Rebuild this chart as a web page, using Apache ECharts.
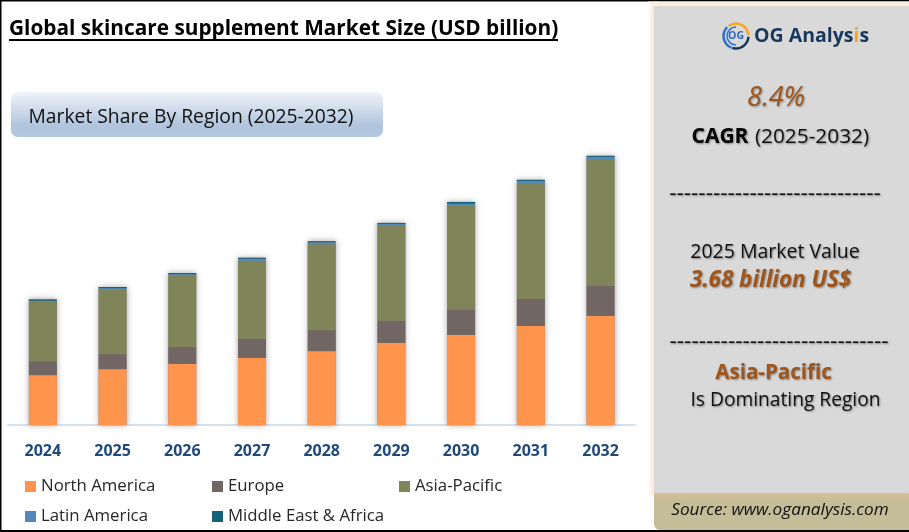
<!DOCTYPE html>
<html>
<head>
<meta charset="utf-8">
<style>
html, body { margin: 0; padding: 0; background: #fff; }
#chart { width: 909px; height: 532px; }
</style>
<script src="https://cdn.jsdelivr.net/npm/echarts@6/dist/echarts.min.js"></script>
</head>
<body>
<div id="chart"></div>
<script>
var years = ['2024', '2025', '2026', '2027', '2028', '2029', '2030', '2031', '2032']
var northAmerica = [1.33, 1.49, 1.63, 1.79, 1.97, 2.19, 2.40, 2.64, 2.91]
var europe = [0.37, 0.40, 0.45, 0.51, 0.56, 0.59, 0.67, 0.72, 0.80]
var asiaPacific = [1.58, 1.73, 1.90, 2.08, 2.29, 2.53, 2.78, 3.07, 3.36]
var latinAmerica = [0.035, 0.03, 0.045, 0.053, 0.053, 0.053, 0.053, 0.08, 0.08]
var middleEast = [0.035, 0.03, 0.027, 0.027, 0.027, 0.027, 0.045, 0.027, 0.027]
// sum of the regions, only used to cast one shadow behind each whole stack
var totals = years.map(function (y, i) {
    return northAmerica[i] + europe[i] + asiaPacific[i] + latinAmerica[i] + middleEast[i]
})

var font = '"Open Sans", "Noto Sans", sans-serif'
var chart = echarts.init(document.getElementById('chart'), null, { renderer: 'canvas' })

function barSeries(name, values, color) {
    return {
        name: name,
        type: 'bar',
        stack: 'total',
        barWidth: 28,
        z: 3,
        data: values,
        itemStyle: { color: color }
    }
}

function legendAt(name, left, top) {
    return {
        data: [name],
        left: left,
        top: top,
        padding: 0,
        itemWidth: 11,
        itemHeight: 11,
        itemGap: 5,
        icon: 'rect',
        selectedMode: false,
        textStyle: { fontFamily: font, fontSize: 16.8, color: '#262626', padding: [1, 0, 0, 0] }
    }
}

function panelText(text, x, y, size, color, weight, style) {
    return {
        type: 'text',
        z: 20,
        style: {
            x: x,
            y: y,
            text: text,
            fontFamily: font,
            fontSize: size,
            fontWeight: weight || 'normal',
            fontStyle: style || 'normal',
            fill: color,
            textAlign: 'center',
            textVerticalAlign: 'middle',
            textShadowColor: 'rgba(0,0,0,0.4)',
            textShadowBlur: 2,
            textShadowOffsetX: 1,
            textShadowOffsetY: 1
        }
    }
}

function logoArc(r, start, end, color, width) {
    return {
        type: 'arc',
        z: 20,
        shape: { cx: 736, cy: 36, r: r, startAngle: start, endAngle: end },
        style: { stroke: color, lineWidth: width, fill: null, lineCap: 'butt' }
    }
}

var graphics = [
    // frame
    { type: 'rect', z: 0, shape: { x: 0, y: 0, width: 909, height: 532 }, style: { fill: '#fff' } },
    { type: 'rect', z: 1, shape: { x: 0, y: 0, width: 909, height: 1.5 }, style: { fill: '#000' } },
    { type: 'rect', z: 1, shape: { x: 0, y: 530, width: 909, height: 2 }, style: { fill: '#000' } },
    { type: 'rect', z: 1, shape: { x: 0, y: 0, width: 1.5, height: 532 }, style: { fill: '#000' } },
    // title
    { type: 'text', z: 20, style: { x: 9, y: 29, text: 'Global skincare supplement Market Size (USD billion)', fontFamily: font, fontSize: 20.8, fontWeight: 'bold', fill: '#000', textVerticalAlign: 'middle' } },
    { type: 'rect', z: 20, shape: { x: 9, y: 39, width: 549, height: 2 }, style: { fill: '#000' } },
    // subtitle box
    {
        type: 'rect', z: 5,
        shape: { x: 11, y: 92, width: 372, height: 45, r: 7 },
        style: {
            fill: new echarts.graphic.LinearGradient(0, 0, 0, 1, [
                { offset: 0, color: '#f0f3f9' },
                { offset: 0.75, color: '#b0c4de' },
                { offset: 1, color: '#b4c7e0' }
            ])
        }
    },
    { type: 'text', z: 20, style: { x: 28.5, y: 117.5, text: 'Market Share By Region (2025-2032)', fontFamily: font, fontSize: 19.3, fill: '#111', textVerticalAlign: 'middle' } },
    // right panel
    {
        type: 'rect', z: 2,
        shape: { x: 648, y: 1.5, width: 10, height: 494 },
        style: {
            fill: new echarts.graphic.LinearGradient(0, 0, 1, 0, [
                { offset: 0, color: '#ffffff' },
                { offset: 0.6, color: '#fde6d3' },
                { offset: 1, color: '#fde6d3' }
            ])
        }
    },
    { type: 'rect', z: 2, shape: { x: 654, y: 1.5, width: 255, height: 6 }, style: { fill: '#fdeee2' } },
    { type: 'rect', z: 3, shape: { x: 654, y: 6, width: 255, height: 490 }, style: { fill: '#d9d9d9' } },
    {
        type: 'rect', z: 4,
        shape: { x: 654, y: 493, width: 255, height: 37, r: [0, 0, 0, 6] },
        style: {
            fill: new echarts.graphic.LinearGradient(0, 0, 0, 1, [
                { offset: 0, color: '#dcc097' },
                { offset: 0.2, color: '#c4bd97' },
                { offset: 1, color: '#c4bd97' }
            ])
        }
    },
    // logo
    logoArc(12.5, Math.PI * 0.62, Math.PI * 1.25, '#2f6fd0', 2.5),
    logoArc(12.5, Math.PI * 1.3, Math.PI * 1.98, '#f5a623', 2.5),
    logoArc(12.5, Math.PI * 0.02, Math.PI * 0.6, '#12355b', 2.5),
    logoArc(9, Math.PI * 0.5, Math.PI * 1.5, '#2f6fd0', 1.5),
    { type: 'text', z: 20, style: { x: 736, y: 36, text: 'OG', fontFamily: font, fontSize: 10.5, fontWeight: 'bold', fill: '#2a6ac8', textAlign: 'center', textVerticalAlign: 'middle' } },
    {
        type: 'text', z: 20,
        style: {
            x: 754, y: 36,
            text: '{a|OG Analys}{b|i}{a|s}',
            textVerticalAlign: 'middle',
            rich: {
                a: { fontFamily: font, fontSize: 19.5, fontWeight: 'bold', fill: '#17375e', color: '#17375e' },
                b: { fontFamily: font, fontSize: 19.5, fontWeight: 'bold', fill: '#f5a623', color: '#f5a623' }
            }
        }
    },
    // panel text
    panelText('8.4%', 776, 98, 27, '#a0561a', 'normal', 'italic'),
    panelText('CAGR', 720, 137, 21, '#000', 'bold'),
    panelText('(2025-2032)', 812, 137, 20.8, '#111'),
    panelText('-----------------------------', 775, 194, 22.7, '#111'),
    panelText('2025 Market Value', 775, 252, 19.5, '#111'),
    panelText('3.68 billion US$', 770.5, 281, 22.4, '#a0561a', 'bold', 'italic'),
    panelText('------------------------------', 779, 342, 22.7, '#111'),
    panelText('Asia-Pacific', 773.5, 373, 20.5, '#a0561a', 'bold'),
    panelText('Is Dominating Region', 785.5, 401, 19.2, '#111'),
    { type: 'text', z: 20, style: { x: 780, y: 510, text: 'Source: www.oganalysis.com', fontFamily: font, fontSize: 17.2, fontStyle: 'italic', fill: '#111', textAlign: 'center', textVerticalAlign: 'middle' } }
]

chart.setOption({
    animation: false,
    backgroundColor: '#fff',
    graphic: graphics,
    legend: [
        legendAt('North America', 25, 478),
        legendAt('Europe', 212, 478),
        legendAt('Asia-Pacific', 399, 478),
        legendAt('Latin America', 25, 508),
        legendAt('Middle East & Africa', 212, 508)
    ],
    grid: { left: 8, width: 627.4, top: 140, height: 285, containLabel: false },
    xAxis: {
        type: 'category',
        data: years,
        axisTick: { show: false },
        axisLine: { lineStyle: { color: '#d5e2f2', width: 2 } },
        axisLabel: { margin: 18, fontFamily: font, fontSize: 16, fontWeight: 'bold', color: '#1f497d' }
    },
    yAxis: { type: 'value', min: 0, max: 7.6, show: false, splitLine: { show: false } },
    series: [
        {
            name: 'Total',
            type: 'bar',
            barWidth: 28,
            barGap: '-100%',
            z: 2,
            data: totals,
            itemStyle: { color: '#888', shadowBlur: 6, shadowColor: 'rgba(0,0,0,0.35)' }
        },
        barSeries('North America', northAmerica, '#ff944d'),
        barSeries('Europe', europe, '#716664'),
        barSeries('Asia-Pacific', asiaPacific, '#7f8558'),
        barSeries('Latin America', latinAmerica, '#5388b8'),
        barSeries('Middle East & Africa', middleEast, '#14617a')
    ]
})
</script>
</body>
</html>
